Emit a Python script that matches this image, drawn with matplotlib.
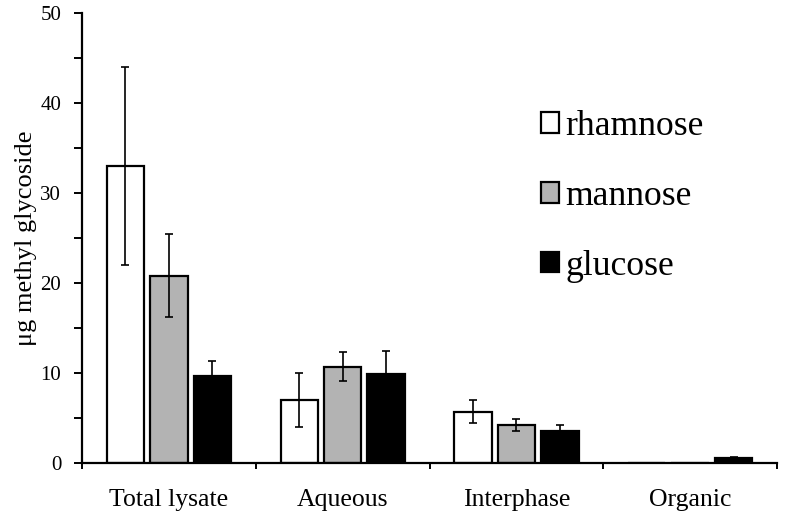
import matplotlib
matplotlib.use('Agg')
import matplotlib.pyplot as plt
from matplotlib.ticker import MultipleLocator, FixedLocator
import numpy as np

plt.rcParams['font.family'] = ['Liberation Serif', 'DejaVu Serif']

categories = ['Total lysate', 'Aqueous', 'Interphase', 'Organic']
series = ['rhamnose', 'mannose', 'glucose']
rhamnose = [33.0, 7.0, 5.7, 0.0]
rhamnose_err = [11.0, 3.0, 1.3, 0.0]
mannose = [20.8, 10.7, 4.2, 0.0]
mannose_err = [4.6, 1.6, 0.65, 0.0]
glucose = [9.7, 9.9, 3.6, 0.6]
glucose_err = [1.6, 2.5, 0.6, 0.1]

values = [rhamnose, mannose, glucose]
errors = [rhamnose_err, mannose_err, glucose_err]
colors = ['white', '#b3b3b3', 'black']

fig = plt.figure(figsize=(8, 5.2), dpi=100)
ax = fig.add_axes([0.1025, 0.1096, 0.8688, 0.8654])

x = np.arange(len(categories))
width = 0.215
offsets = [-0.25, 0.0, 0.25]
handles = []
for vals, errs, col, off, name in zip(values, errors, colors, offsets, series):
    bars = ax.bar(x + off, vals, width, color=col, edgecolor='black',
                  linewidth=1.6, label=name, zorder=2)
    # error bars only where a bar is drawn
    idx = [i for i, v in enumerate(vals) if v > 0]
    ax.errorbar(x[idx] + off, np.array(vals)[idx], yerr=np.array(errs)[idx],
                fmt='none', ecolor='black', elinewidth=1.2, capsize=3,
                capthick=1.2, zorder=3)
    handles.append(bars)

ax.set_xlim(-0.5, 3.5)
ax.set_ylim(0, 50)
ax.spines['top'].set_visible(False)
ax.spines['right'].set_visible(False)
ax.spines['left'].set_linewidth(1.6)
ax.spines['bottom'].set_linewidth(1.6)

ax.yaxis.set_major_locator(MultipleLocator(10))
ax.yaxis.set_minor_locator(MultipleLocator(5))
ax.tick_params(axis='y', which='both', direction='out', length=6, width=1.4,
               labelsize=15, pad=9)

ax.xaxis.set_major_locator(FixedLocator(x))
ax.set_xticklabels(categories)
ax.xaxis.set_minor_locator(FixedLocator([-0.5, 0.5, 1.5, 2.5, 3.5]))
ax.tick_params(axis='x', which='major', length=0, labelsize=18.5, pad=19)
ax.tick_params(axis='x', which='minor', direction='out', length=4, width=1.4)

ax.set_ylabel('\u03bcg methyl glycoside', fontsize=19)
ax.yaxis.set_label_coords(-0.0647, 0.5)

leg = ax.legend(handles=handles, labels=series, loc='upper left',
                bbox_to_anchor=(0.66, 0.784), frameon=False, fontsize=25.7,
                handlelength=0.52, handleheight=0.52, handletextpad=0.18,
                labelspacing=1.03, borderpad=0, borderaxespad=0)

fig.savefig('out.png', dpi=100)
